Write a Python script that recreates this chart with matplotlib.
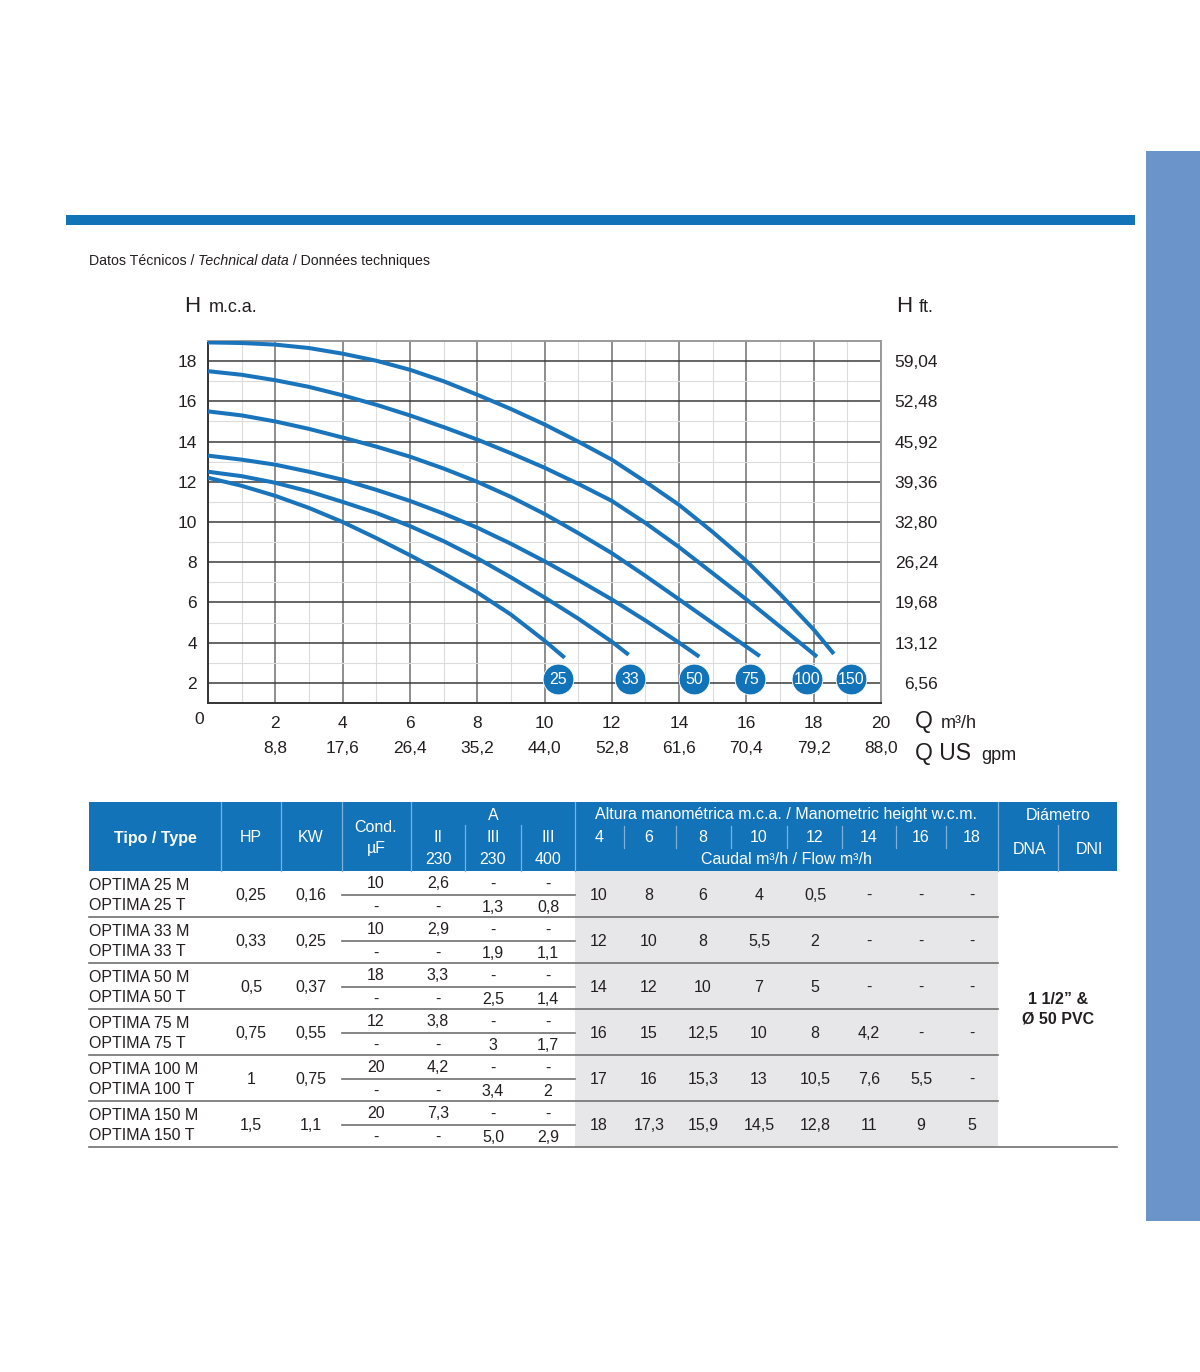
import numpy as np
import matplotlib.pyplot as plt
from matplotlib.patches import Rectangle

plt.rcParams['font.family'] = ['Liberation Sans', 'DejaVu Sans']

# pump curves: flow Q (m3/h) -> head H (m.c.a.)
q_25 = [0, 1, 2, 3, 4, 5, 6, 7, 8, 9, 10, 10.6]
h_25 = [12.2, 11.8, 11.3, 10.7, 10.0, 9.2, 8.35, 7.45, 6.5, 5.4, 4.1, 3.25]
q_33 = [0, 1, 2, 3, 4, 5, 6, 7, 8, 9, 10, 11, 12, 12.5]
h_33 = [12.5, 12.28, 11.95, 11.52, 11.0, 10.45, 9.8, 9.05, 8.2, 7.25, 6.25, 5.2, 4.05, 3.4]
q_50 = [0, 1, 2, 3, 4, 5, 6, 7, 8, 9, 10, 11, 12, 13, 14, 14.6]
h_50 = [13.3, 13.1, 12.85, 12.5, 12.1, 11.6, 11.05, 10.42, 9.72, 8.92, 8.05, 7.12, 6.15, 5.1, 4.0, 3.3]
q_75 = [0, 1, 2, 3, 4, 5, 6, 7, 8, 9, 10, 11, 12, 13, 14, 15, 16, 16.4]
h_75 = [15.5, 15.3, 15.0, 14.63, 14.2, 13.75, 13.25, 12.66, 12.0, 11.25, 10.4, 9.45,
        8.45, 7.32, 6.15, 4.97, 3.8, 3.33]
q_100 = [0, 1, 2, 3, 4, 5, 6, 7, 8, 9, 10, 11, 12, 13, 14, 15, 16, 17, 18.1]
h_100 = [17.5, 17.32, 17.05, 16.72, 16.3, 15.83, 15.3, 14.72, 14.1, 13.42, 12.7, 11.9,
         11.05, 9.95, 8.75, 7.45, 6.15, 4.8, 3.3]
q_150 = [0, 1, 2, 3, 4, 5, 6, 7, 8, 9, 10, 11, 12, 13, 14, 15, 16, 17, 18, 18.6]
h_150 = [18.93, 18.9, 18.82, 18.65, 18.37, 18.02, 17.57, 17.0, 16.33, 15.62, 14.85, 14.0,
         13.1, 12.0, 10.85, 9.5, 8.06, 6.42, 4.65, 3.44]
curves = [(q_25, h_25), (q_33, h_33), (q_50, h_50), (q_75, h_75), (q_100, h_100), (q_150, h_150)]
curve_names = ['25', '33', '50', '75', '100', '150']
badge_q = [10.4, 12.55, 14.45, 16.1, 17.8, 19.1]

h_ticks = [2, 4, 6, 8, 10, 12, 14, 16, 18]
h_ft_labels = ['6,56', '13,12', '19,68', '26,24', '32,80', '39,36', '45,92', '52,48', '59,04']
q_ticks = [2, 4, 6, 8, 10, 12, 14, 16, 18, 20]
q_gpm_labels = ['8,8', '17,6', '26,4', '35,2', '44,0', '52,8', '61,6', '70,4', '79,2', '88,0']

# technical table
models = ['25', '33', '50', '75', '100', '150']
hp = ['0,25', '0,33', '0,5', '0,75', '1', '1,5']
kw = ['0,16', '0,25', '0,37', '0,55', '0,75', '1,1']
cond_m = ['10', '10', '18', '12', '20', '20']
amp_ii_230 = ['2,6', '2,9', '3,3', '3,8', '4,2', '7,3']
amp_iii_230 = ['1,3', '1,9', '2,5', '3', '3,4', '5,0']
amp_iii_400 = ['0,8', '1,1', '1,4', '1,7', '2', '2,9']
head_cols = ['4', '6', '8', '10', '12', '14', '16', '18']
flows = [
    ['10', '8', '6', '4', '0,5', '-', '-', '-'],
    ['12', '10', '8', '5,5', '2', '-', '-', '-'],
    ['14', '12', '10', '7', '5', '-', '-', '-'],
    ['16', '15', '12,5', '10', '8', '4,2', '-', '-'],
    ['17', '16', '15,3', '13', '10,5', '7,6', '5,5', '-'],
    ['18', '17,3', '15,9', '14,5', '12,8', '11', '9', '5'],
]
diameter = ['1 1/2” &', 'Ø 50 PVC']
title_parts = [('Datos Técnicos / ', 'normal'), ('Technical data', 'italic'),
               (' / Données techniques', 'normal')]

blue = '#1273b9'
line_blue = '#1a74bb'
ink = '#231f20'

W, H = 1200, 1372
fig = plt.figure(figsize=(12, 13.72), dpi=100)
bg = fig.add_axes([0, 0, 1, 1])
bg.set_xlim(0, W)
bg.set_ylim(H, 0)
bg.axis('off')

# page decorations
bg.add_patch(Rectangle((1146, 151), 54, 1070, color='#6b94ca', lw=0))
bg.add_patch(Rectangle((66, 215), 1069, 10, color=blue, lw=0))

# title pieces placed one after the other
renderer = fig.canvas.get_renderer()
x = 89
for txt, st in title_parts:
    t = bg.text(x, 261, txt, fontsize=10.2, color=ink, va='center', style=st)
    x += t.get_window_extent(renderer).width

# ---- chart ----
ax = fig.add_axes([208 / W, 1 - 703 / H, 673 / W, 362 / H])
ax.set_xlim(0, 20)
ax.set_ylim(1, 19)
ax.set_xticks(q_ticks)
ax.set_xticklabels([str(q) for q in q_ticks])
ax.set_yticks(h_ticks)
ax.set_yticklabels([str(h) for h in h_ticks])
ax.set_xticks(np.arange(1, 20, 2), minor=True)
ax.set_yticks(np.arange(3, 19, 2), minor=True)
ax.tick_params(which='both', length=0)
ax.tick_params(axis='x', pad=9, labelsize=12.5, labelcolor=ink)
ax.tick_params(axis='y', pad=8, labelsize=12.5, labelcolor=ink)
ax.grid(which='minor', color='#dcdcdc', lw=0.8)
ax.grid(which='major', axis='x', color='#858585', lw=1.3)
ax.grid(which='major', axis='y', color='#3c3c3c', lw=1.1)
ax.set_axisbelow(True)
for side in ['left', 'bottom']:
    ax.spines[side].set_color('#333333')
    ax.spines[side].set_linewidth(1.4)
for side in ['top', 'right']:
    ax.spines[side].set_color('#9a9a9a')
    ax.spines[side].set_linewidth(1.4)

for q, h in curves:
    ax.plot(q, h, color=line_blue, lw=2.9, solid_capstyle='butt',
            solid_joinstyle='round', zorder=3)

ax.scatter(badge_q, [2.18] * len(badge_q), s=490, color=blue, edgecolors='white',
           linewidths=0.6, zorder=5, clip_on=False)
for q, name in zip(badge_q, curve_names):
    ax.text(q, 2.18, name, color='white', fontsize=11.5, ha='center', va='center', zorder=6)

ax2 = ax.twinx()
ax2.set_ylim(1, 19)
ax2.set_yticks(h_ticks)
ax2.set_yticklabels(h_ft_labels)
ax2.tick_params(length=0, pad=41, labelsize=12.5, labelcolor=ink)
for lab in ax2.get_yticklabels():
    lab.set_horizontalalignment('right')
for s in ax2.spines.values():
    s.set_visible(False)

for q, lab in zip(q_ticks, q_gpm_labels):
    ax.text(q, -0.127, lab, transform=ax.get_xaxis_transform(), ha='center', va='center',
            fontsize=12.5, color=ink)

bg.text(199, 720, '0', fontsize=12.5, color=ink, ha='center', va='center')
bg.text(184, 312, 'H', fontsize=16, color=ink, va='baseline')
bg.text(209, 312, 'm.c.a.', fontsize=13, color=ink, va='baseline')
bg.text(896, 312, 'H', fontsize=16, color=ink, va='baseline')
bg.text(919, 312, 'ft.', fontsize=13, color=ink, va='baseline')
bg.text(915, 728, 'Q', fontsize=16.5, color=ink, va='baseline')
bg.text(941, 728, 'm³/h', fontsize=13, color=ink, va='baseline')
bg.text(915, 760, 'Q US', fontsize=16.5, color=ink, va='baseline')
bg.text(981, 760, 'gpm', fontsize=13, color=ink, va='baseline')

# ---- table ----
col_hp, col_kw, col_cond = 251, 311, 376
col_amp = [438, 493, 548]
col_head = [599, 649, 703, 759, 815, 869, 921, 972]
head_seps = [624, 676, 731, 787, 842, 896, 946]

bg.add_patch(Rectangle((89, 802), 1028, 69, color=blue, lw=0))
for x in [221, 281, 342, 411, 575, 998]:
    bg.plot([x, x], [802, 871], color='#7fb0dc', lw=0.9)
for x in [465, 521, 1058]:
    bg.plot([x, x], [825, 871], color='#7fb0dc', lw=0.9)
for x in head_seps:
    bg.plot([x, x], [826, 848], color='#7fb0dc', lw=0.9)

hdr = dict(color='white', ha='center', va='center', fontsize=11.5)
bg.text(155, 838, 'Tipo / Type', fontweight='bold', **hdr)
bg.text(col_hp, 838, 'HP', **hdr)
bg.text(col_kw, 838, 'KW', **hdr)
bg.text(col_cond, 828, 'Cond.', **hdr)
bg.text(col_cond, 848, 'µF', **hdr)
bg.text(493, 815, 'A', **hdr)
for x, top, bot in zip(col_amp, ['II', 'III', 'III'], ['230', '230', '400']):
    bg.text(x, 837, top, **hdr)
    bg.text(x, 860, bot, **hdr)
bg.text(786, 815, 'Altura manométrica m.c.a. / Manometric height w.c.m.', **hdr)
for x, lab in zip(col_head, head_cols):
    bg.text(x, 837, lab, **hdr)
bg.text(786, 860, 'Caudal m³/h / Flow m³/h', **hdr)
bg.text(1058, 815, 'Diámetro', **hdr)
bg.text(1029, 849, 'DNA', **hdr)
bg.text(1089, 849, 'DNI', **hdr)

bg.add_patch(Rectangle((575, 871), 423, 276, color='#e7e7e9', lw=0))
cell = dict(color=ink, ha='center', va='center', fontsize=11.5)
for g, m in enumerate(models):
    top = 871 + 46 * g
    right = 1117 if g == len(models) - 1 else 998
    bg.plot([89, right], [top + 46, top + 46], color='#6f6f6f', lw=1.2)
    bg.plot([342, 575], [top + 23.5, top + 23.5], color='#6f6f6f', lw=1.2)
    bg.text(89, top + 14, f'OPTIMA {m} M', color=ink, va='center', fontsize=11.5)
    bg.text(89, top + 34, f'OPTIMA {m} T', color=ink, va='center', fontsize=11.5)
    bg.text(col_hp, top + 24, hp[g], **cell)
    bg.text(col_kw, top + 24, kw[g], **cell)
    for x, v in zip([col_cond] + col_amp, [cond_m[g], amp_ii_230[g], '-', '-']):
        bg.text(x, top + 13, v, **cell)
    for x, v in zip([col_cond] + col_amp, ['-', '-', amp_iii_230[g], amp_iii_400[g]]):
        bg.text(x, top + 36, v, **cell)
    for x, v in zip(col_head, flows[g]):
        bg.text(x, top + 24, v, **cell)

bg.text(1058, 999, diameter[0], fontweight='bold', **cell)
bg.text(1058, 1019, diameter[1], fontweight='bold', **cell)

fig.savefig('out.png', dpi=100, facecolor='white')
